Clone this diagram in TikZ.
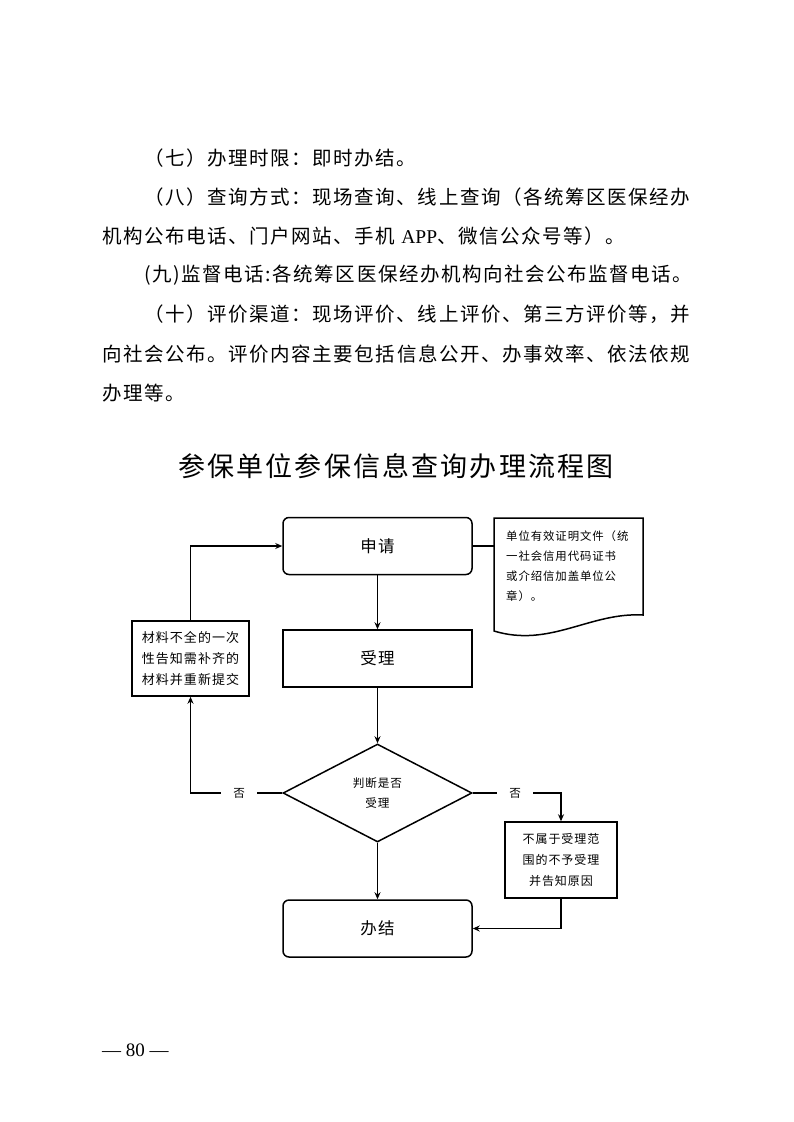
\documentclass[tikz,border=0pt]{standalone}
\usepackage{fontspec}
\setmainfont{Liberation Serif}
\newfontfamily\cjk[LetterSpace=8]{Noto Sans CJK SC}
\usetikzlibrary{shapes.geometric,arrows.meta}

\begin{document}
\begin{tikzpicture}[x=1pt,y=-1pt,
    bodyline/.style={anchor=west, inner sep=0pt, font=\cjk\fontsize{19.5}{20}\selectfont},
    box/.style={draw, line width=1.5pt, inner sep=0pt, align=center},
    mainbox/.style={box, minimum width=189pt, minimum height=57pt,
      font=\cjk\fontsize{16.5}{20}\selectfont},
    roundbox/.style={mainbox, rounded corners=6pt},
    decide/.style={diamond, box, minimum width=189pt, minimum height=98pt,
      font=\cjk\fontsize{11.6}{20}\selectfont},
    flow/.style={line width=1.5pt, -{Stealth[length=7pt,width=6pt]}},
    nolab/.style={fill=white, inner xsep=12pt, inner ysep=2pt,
      font=\cjk\fontsize{11.6}{14}\selectfont}]
  \fill[white] (0,0) rectangle (793,1122);
  \useasboundingbox (0,0) rectangle (793,1122);

  % page text
  \foreach \xx/\yy/\txt [count=\i] in {
      144/158/{（七）办理时限：即时办结。},
      144/197/{（八）查询方式：现场查询、线上查询（各统筹区医保经办},
      102/236/{机构公布电话、门户网站、手机 {\rmfamily APP}、微信公众号等）。},
      144/275/{(九)监督电话:各统筹区医保经办机构向社会公布监督电话。},
      144/314/{（十）评价渠道：现场评价、线上评价、第三方评价等，并},
      102/354/{向社会公布。评价内容主要包括信息公开、办事效率、依法依规},
      102/393/{办理等。}
    } {
    \node[bodyline] (line\i) at (\xx,\yy) {\txt};
  }
  \node[font=\cjk\fontsize{27}{30}\selectfont] (title) at (396,466)
    {参保单位参保信息查询办理流程图};
  \node[anchor=west, inner sep=0pt, font=\fontsize{19}{20}\selectfont] (pageno)
    at (102,1050) {— 80 —};

  % flow chart
  \node[roundbox] (apply) at (377.5,546) {申请};
  \node[mainbox] (accept) at (377.5,658.5) {受理};
  \node[decide] (judge) at (377.5,793) {判断是否\\受理};
  \node[roundbox] (finish) at (377.5,928.5) {办结};
  \node[box, minimum width=117pt, minimum height=75pt,
    font=\cjk\fontsize{13}{21}\selectfont] (resubmit) at (190.5,658.5)
    {材料不全的一次\\性告知需补齐的\\材料并重新提交};
  \node[box, minimum width=112pt, minimum height=76pt,
    font=\cjk\fontsize{12}{21}\selectfont] (reject) at (561,860)
    {不属于受理范\\围的不予受理\\并告知原因};

  % document note
  \coordinate (docnw) at (494,518);
  \draw[line width=1.5pt] (docnw) -- (643,518) -- (643,615)
    .. controls (590,612) and (550,648) .. (494,631) -- cycle;
  \node[anchor=north west, inner sep=0pt, align=left,
    font=\cjk\fontsize{11.4}{20}\selectfont] (note) at (506,531)
    {单位有效证明文件（统\\一社会信用代码证书\\或介绍信加盖单位公\\章）。};

  \draw[line width=1.5pt] (apply.east) -- (apply.east -| docnw);
  \draw[flow] (apply) -- (accept);
  \draw[flow] (accept) -- (judge);
  \draw[flow] (judge) -- (finish);
  \draw[flow] (judge.west) -| node[pos=0.235, nolab] {否} (resubmit.south);
  \draw[flow] (resubmit.north) |- (apply.west);
  \draw[flow] (judge.east) -| node[pos=0.24, nolab] {否} (reject.north);
  \draw[flow] (reject.south) |- (finish.east);
\end{tikzpicture}
\end{document}
